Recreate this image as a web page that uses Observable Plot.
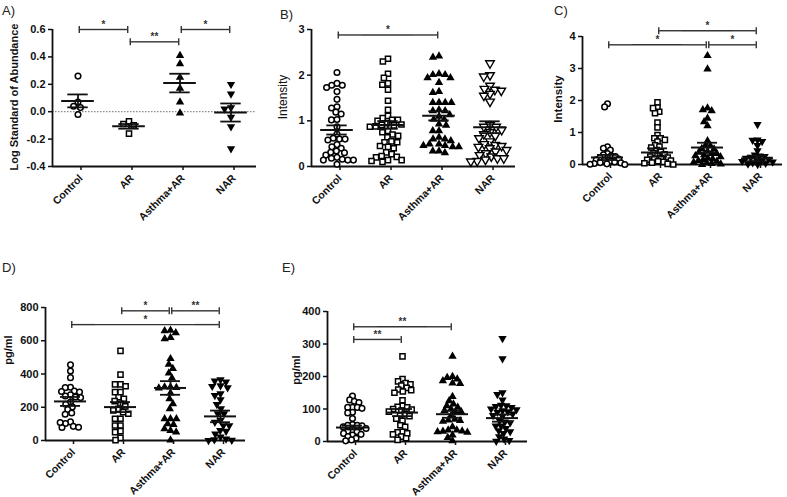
<!DOCTYPE html>
<html><head><meta charset="utf-8">
<script src="https://cdn.jsdelivr.net/npm/d3@7"></script>
<script src="https://cdn.jsdelivr.net/npm/@observablehq/plot@0.6"></script>
<style>
body{margin:0;background:#fff;}
#fig{position:relative;width:787px;height:497px;font-family:"Liberation Sans",Arial,sans-serif;overflow:hidden;}
.ttl{position:absolute;font-size:13px;line-height:1;color:#222;}
.ylab{position:absolute;line-height:1;transform:translate(-50%,-50%) rotate(-90deg);white-space:nowrap;color:#111;}
.pan{position:absolute;}
</style></head><body><div id="fig"></div><script>
const groups = ["Control", "AR", "Asthma+AR", "NAR"];

// Panel A
const aControl = [0.26, 0.07, 0.04, 0.03, -0.02];
const aAR = [-0.07, -0.09, -0.10, -0.16];
const aAsthma = [0.41, 0.35, 0.25, 0.17, 0.07, -0.01];
const aNAR = [0.20, 0.13, 0.03, 0.02, -0.04, -0.11, -0.27];
const aMean = [0.079, -0.107, 0.209, -0.006];
const aSem = [0.047, 0.017, 0.068, 0.066];
const aBrackets = [[0, 1, 0.6, "*"], [1, 2, 0.51, "**"], [2, 3, 0.6, "*"]];
const aTicks = [-0.4, -0.2, 0, 0.2, 0.4, 0.6];

// Panel B
const bControl = [2.06,1.82,1.78,1.78,1.73,1.64,1.47,1.31,1.28,1.19,1.15,1.03,1.02,0.87,0.71,0.62,0.60,0.60,0.58,0.48,0.43,0.40,0.34,0.31,0.30,0.25,0.20,0.18,0.16,0.14,0.14,0.14,0.05];
const bAR = [2.36,2.30,2.03,1.94,1.82,1.79,1.68,1.44,1.24,1.11,1.06,1.02,1.02,1.00,0.95,0.92,0.91,0.90,0.88,0.87,0.78,0.75,0.70,0.67,0.64,0.55,0.53,0.53,0.45,0.43,0.40,0.31,0.27,0.23,0.21,0.20,0.14,0.14,0.12,0.10];
const bAsthma = [2.42,2.39,2.03,2.01,2.01,1.94,1.94,1.84,1.64,1.62,1.40,1.40,1.40,1.40,1.24,1.22,1.22,1.13,1.10,1.03,1.03,0.93,0.90,0.78,0.78,0.64,0.60,0.60,0.56,0.49,0.49,0.46,0.46,0.43,0.43,0.34,0.34,0.30];
const bNAR = [2.26,2.00,1.97,1.77,1.70,1.68,1.66,1.59,1.55,1.42,0.91,0.87,0.87,0.80,0.75,0.71,0.67,0.62,0.55,0.49,0.47,0.45,0.43,0.40,0.36,0.33,0.29,0.25,0.22,0.18,0.18,0.15,0.12,0.11];
const bMean = [0.80, 0.91, 1.11, 0.86];
const bSem = [0.10, 0.085, 0.10, 0.13];
const bBrackets = [[0, 2, 2.88, "*"]];
const bTicks = [0, 1, 2, 3];

// Panel C
const cControl = [1.90,1.80,0.55,0.51,0.45,0.34,0.30,0.27,0.25,0.22,0.20,0.17,0.15,0.12,0.10,0.08,0.06,0.05,0.03,0.02,0.01,0.0];
const cAR = [1.94,1.78,1.76,1.65,1.60,1.31,1.16,0.92,0.82,0.82,0.77,0.72,0.60,0.56,0.53,0.45,0.40,0.35,0.32,0.28,0.25,0.22,0.20,0.18,0.15,0.12,0.10,0.08,0.06,0.04,0.02,0.0];
const cAsthma = [3.40,2.98,1.76,1.71,1.68,1.44,1.33,1.21,0.74,0.60,0.58,0.50,0.48,0.41,0.38,0.34,0.34,0.30,0.27,0.24,0.20,0.18,0.15,0.12,0.10,0.07,0.05,0.03,0.01,0.0];
const cNAR = [1.25,0.77,0.76,0.72,0.60,0.43,0.30,0.27,0.25,0.22,0.20,0.17,0.15,0.12,0.10,0.08,0.06,0.04,0.02,0.0];
const cMean = [0.22, 0.375, 0.53, 0.19];
const cSem = [0.08, 0.13, 0.15, 0.09];
const cBrackets = [[0, 2, 3.74, "*"], [2, 3, 3.74, "*"], [1, 3, 4.18, "*"]];
const cTicks = [0, 1, 2, 3, 4];

// Panel D
const dControl = [455,418,378,320,318,298,295,292,275,268,262,258,232,218,202,186,165,158,112,102,85,80,78,108];
const dAR = [539,396,338,338,326,291,291,260,251,237,221,205,190,181,171,161,131,131,90,90,56,50,16,2];
const dAsthma = [663,659,647,619,612,492,458,432,406,376,322,322,318,315,285,250,221,191,131,131,131,100,96,70,60,50,2];
const dNAR = [366,358,352,330,326,318,281,271,245,217,191,161,161,121,110,90,90,60,56,40,22,10,5,2,0];
const dMean = [235, 201, 316, 145];
const dSem = [27, 30, 41, 35];
const dBrackets = [[1, 2, 780, "*"], [2, 3, 780, "**"], [0, 3, 697, "*"]];
const dTicks = [0, 200, 400, 600, 800];

// Panel E
const eControl = [140,128,124,120,105,105,105,102,90,88,71,52,50,50,48,45,40,35,32,30,25,22,20,15,10,5,2];
const eAR = [262,192,185,180,176,172,165,160,158,154,150,127,110,107,105,100,98,95,92,84,80,78,70,64,50,45,30,28,25,22,15,10,5];
const eAsthma = [262,200,197,192,187,180,178,138,125,115,110,105,100,95,92,90,80,68,66,64,62,45,35,35,32,31,30,28,20,12,2];
const eNAR = [317,255,150,145,128,112,110,108,105,100,98,95,92,90,85,80,78,64,60,58,48,48,40,33,30,25,15,8,3,1];
const eMean = [43, 89, 84, 72];
const eSem = [6, 11, 11, 11];
const eBrackets = [[0, 2, 353, "**"], [0, 1, 314, "**"]];
const eTicks = [0, 100, 200, 300, 400];

// ---------- drawing ----------
const sqrt3 = Math.sqrt(3);
const triDown = {draw(ctx, size) { const y = -Math.sqrt(size / (sqrt3 * 3)); ctx.moveTo(0, -y * 2); ctx.lineTo(-sqrt3 * y, y); ctx.lineTo(sqrt3 * y, y); ctx.closePath(); }};
const capSym = {draw(ctx) { ctx.moveTo(0, -3.5); ctx.lineTo(0, 3.5); }};

const ST = {
  circle: {symbol: "circle", fill: "white", stroke: "black", strokeWidth: 1.5, r: 2.8},
  square: {symbol: "square", fill: "white", stroke: "black", strokeWidth: 1.5, r: 2.9},
  triUp: {symbol: "triangle", fill: "black", r: 3.1},
  triDown: {symbol: triDown, fill: "black", r: 3.1},
  triDownOpen: {symbol: triDown, fill: "white", stroke: "black", strokeWidth: 1.4, r: 3.2}
};

function brackets(list) {
  const segs = [], caps = [], labels = [];
  for (const [i, j, y, label] of list) {
    for (let k = i; k <= j; k++) segs.push({g: groups[k], y, x1: k === i ? 0.05 : -1, x2: k === j ? -0.05 : 1});
    caps.push({g: groups[i], y, x: 0.05}, {g: groups[j], y, x: -0.05});
    const m = (i + j) / 2, f = Math.floor(m);
    labels.push({g: groups[f], y, x: (m - f) * 2, label});
  }
  return {segs, caps, labels};
}

function panel(cfg) {
  const {series, styles, means, sems, br, domain, ticks, fmt, W, H, ml, mr, mt, mb, pad, zero} = cfg;
  const stats = groups.map((g, i) => ({g, m: means[i], s: sems[i]}));
  const b = brackets(br);
  const marks = [];
  if (zero) marks.push(Plot.ruleY([0], {stroke: "#888", strokeWidth: 1.2, strokeDasharray: "1.5,1.5"}));
  marks.push(Plot.ruleY([domain[0]], {stroke: "#111", strokeWidth: 1.8}));
  marks.push(Plot.ruleX([{g: groups[0]}], {fx: "g", x: -1, y1: domain[0], y2: domain[1], stroke: "#111", strokeWidth: 1.8}));
  series.forEach((vals, i) => {
    const rows = vals.map(v => ({g: groups[i], v}));
    const st = ST[styles[i]];
    marks.push(Plot.dot(rows, Plot.dodgeX({anchor: "middle", padding: pad, y: "v", fx: "g", ...st})));
  });
  marks.push(Plot.ruleY(stats, {fx: "g", y: "m", x1: -0.64, x2: 0.64, stroke: "#111", strokeWidth: 2}));
  marks.push(Plot.ruleX(stats, {fx: "g", x: 0, y1: d => d.m - d.s, y2: d => d.m + d.s, stroke: "#111", strokeWidth: 1.8}));
  marks.push(Plot.ruleY(stats, {fx: "g", y: d => d.m + d.s, x1: -0.4, x2: 0.4, stroke: "#111", strokeWidth: 1.8}));
  marks.push(Plot.ruleY(stats, {fx: "g", y: d => d.m - d.s, x1: -0.4, x2: 0.4, stroke: "#111", strokeWidth: 1.8}));
  marks.push(Plot.ruleY(b.segs, {fx: "g", y: "y", x1: "x1", x2: "x2", stroke: "#333", strokeWidth: 1.4}));
  marks.push(Plot.dot(b.caps, {fx: "g", x: "x", y: "y", symbol: capSym, stroke: "#333", strokeWidth: 1.4, r: 3}));
  marks.push(Plot.text(b.labels, {fx: "g", x: "x", y: "y", text: "label", dy: -5, fontSize: 10, fontWeight: "bold", fill: "#333"}));
  marks.push(Plot.axisY({ticks, tickFormat: fmt, tickSize: 4, tickPadding: 3, fontSize: 11, fontWeight: "bold", label: null, strokeWidth: 1.5}));
  marks.push(Plot.axisFx({anchor: "bottom", tickRotate: -45, tickSize: 4, tickPadding: 6, dx: 3, fontSize: 10.5, fontWeight: "bold", label: null, strokeWidth: 1.5}));
  return Plot.plot({
    width: W, height: H, marginLeft: ml, marginRight: mr, marginTop: mt, marginBottom: mb,
    style: {background: "none", overflow: "visible", fontFamily: "Liberation Sans, Arial, sans-serif", color: "#111"},
    fx: {domain: groups, padding: 0, label: null},
    x: {domain: [-1, 1], axis: null},
    y: {domain, label: null},
    marks
  });
}

const fig = document.getElementById("fig");
function place(node, left, top) { const d = document.createElement("div"); d.className = "pan"; d.style.left = left + "px"; d.style.top = top + "px"; d.appendChild(node); fig.appendChild(d); }
function text(cls, str, left, top, extra) { const d = document.createElement("div"); d.className = cls; d.textContent = str; d.style.left = left + "px"; d.style.top = top + "px"; Object.assign(d.style, extra || {}); fig.appendChild(d); }

const f1 = d => d.toFixed(1), f0 = d => String(d);

place(panel({series: [aControl, aAR, aAsthma, aNAR], styles: ["circle", "square", "triUp", "triDown"], means: aMean, sems: aSem, br: aBrackets, domain: [-0.4, 0.6], ticks: aTicks, fmt: f1, W: 262, H: 225, ml: 51, mr: 5, mt: 29, mb: 59, pad: 0.4, zero: true}), 0, 0);
place(panel({series: [bControl, bAR, bAsthma, bNAR], styles: ["circle", "square", "triUp", "triDownOpen"], means: bMean, sems: bSem, br: bBrackets, domain: [0, 3], ticks: bTicks, fmt: f0, W: 255, H: 225, ml: 44, mr: 4, mt: 29, mb: 59, pad: 0}), 265, 0);
place(panel({series: [cControl, cAR, cAsthma, cNAR], styles: ["circle", "square", "triUp", "triDown"], means: cMean, sems: cSem, br: cBrackets, domain: [0, 4], ticks: cTicks, fmt: f0, W: 257, H: 225, ml: 50, mr: 4, mt: 36, mb: 61, pad: -1.3}), 530, 0);
place(panel({series: [dControl, dAR, dAsthma, dNAR], styles: ["circle", "square", "triUp", "triDown"], means: dMean, sems: dSem, br: dBrackets, domain: [0, 800], ticks: dTicks, fmt: f0, W: 250, H: 257, ml: 44, mr: 5, mt: 67, mb: 57, pad: -0.3}), 0, 240);
place(panel({series: [eControl, eAR, eAsthma, eNAR], styles: ["circle", "square", "triUp", "triDown"], means: eMean, sems: eSem, br: eBrackets, domain: [0, 400], ticks: eTicks, fmt: f0, W: 267, H: 257, ml: 62, mr: 5, mt: 71, mb: 56, pad: -0.8}), 265, 240);

text("ttl", "A)", 2, 4);
text("ttl", "B)", 280, 8);
text("ttl", "C)", 554, 4);
text("ttl", "D)", 2, 261);
text("ttl", "E)", 282, 261);

text("ylab", "Log Standard of Abundance", 14, 97, {fontSize: "11px", fontWeight: "bold"});
text("ylab", "Intensity", 283, 97, {fontSize: "12px"});
text("ylab", "Intensity", 559, 99, {fontSize: "11.5px", fontWeight: "bold"});
text("ylab", "pg/ml", 8, 350, {fontSize: "11px", fontWeight: "bold"});
text("ylab", "pg/ml", 296, 370, {fontSize: "11px", fontWeight: "bold"});
</script></body></html>
